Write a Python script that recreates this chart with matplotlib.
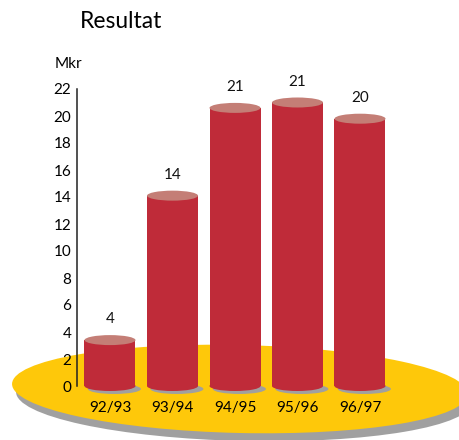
import matplotlib
matplotlib.use("Agg")
import matplotlib.pyplot as plt
from matplotlib.patches import Ellipse

categories = ["92/93", "93/94", "94/95", "95/96", "96/97"]
values = [3.4, 14.1, 20.6, 21.0, 19.8]
value_labels = ["4", "14", "21", "21", "20"]
yticks = [0, 2, 4, 6, 8, 10, 12, 14, 16, 18, 20, 22]

plt.rcParams['font.family'] = ['Lato', 'DejaVu Sans']

BODY = "#BF2B39"
TOP = "#C47E76"
YELLOW = "#FEC80A"
GRAY = "#A0A0A0"

W, H = 460, 440
fig = plt.figure(figsize=(W / 100, H / 100), dpi=100)

# background platter (pixel coordinates)
bg = fig.add_axes([0, 0, 1, 1])
bg.set_xlim(0, W)
bg.set_ylim(H, 0)
bg.axis("off")
bg.add_patch(Ellipse((244, 397), 456, 88, angle=1.3, color=GRAY, lw=0))
bg.add_patch(Ellipse((240, 389), 456, 88, angle=1.3, color=YELLOW, lw=0))

# main axes
ax = fig.add_axes([77 / W, 54 / H, (W - 77) / W, 297 / H])
ax.set_facecolor("none")
ax.set_xlim(-0.528, 5.6)
ax.set_ylim(0, 22)
for s in ["top", "right", "bottom"]:
    ax.spines[s].set_visible(False)
ax.spines["left"].set_linewidth(1.1)
ax.spines["left"].set_color("#222222")

bw = 0.816
eh = 10 / 13.5
x = list(range(len(categories)))
ax.bar(x, values, width=bw, color=BODY, zorder=3, lw=0)
for i, v in enumerate(values):
    ax.add_patch(Ellipse((i + 0.07, -0.22), bw * 1.04, eh, color=GRAY, lw=0, zorder=2, clip_on=False))
    ax.add_patch(Ellipse((i, 0), bw, eh, color=BODY, lw=0, zorder=3, clip_on=False))
    ax.add_patch(Ellipse((i, v), bw, eh, color=TOP, lw=0, zorder=4, clip_on=False))
    ax.annotate(value_labels[i], (i, v), xytext=(0, 15), textcoords="offset points",
                ha="center", va="center", fontsize=11, color="#111111")

ax.set_yticks(yticks)
ax.set_yticklabels([str(t) for t in yticks], fontsize=11)
ax.set_xticks(x)
ax.set_xticklabels(categories, fontsize=11)
ax.tick_params(axis="y", length=0, pad=4)
ax.tick_params(axis="x", length=0, pad=10.5)

fig.text(121 / W, 1 - 22 / H, "Resultat", ha="center", va="center", fontsize=16.5)
fig.text(68 / W, 1 - 64 / H, "Mkr", ha="center", va="center", fontsize=11)

fig.savefig("out.png", dpi=100)
